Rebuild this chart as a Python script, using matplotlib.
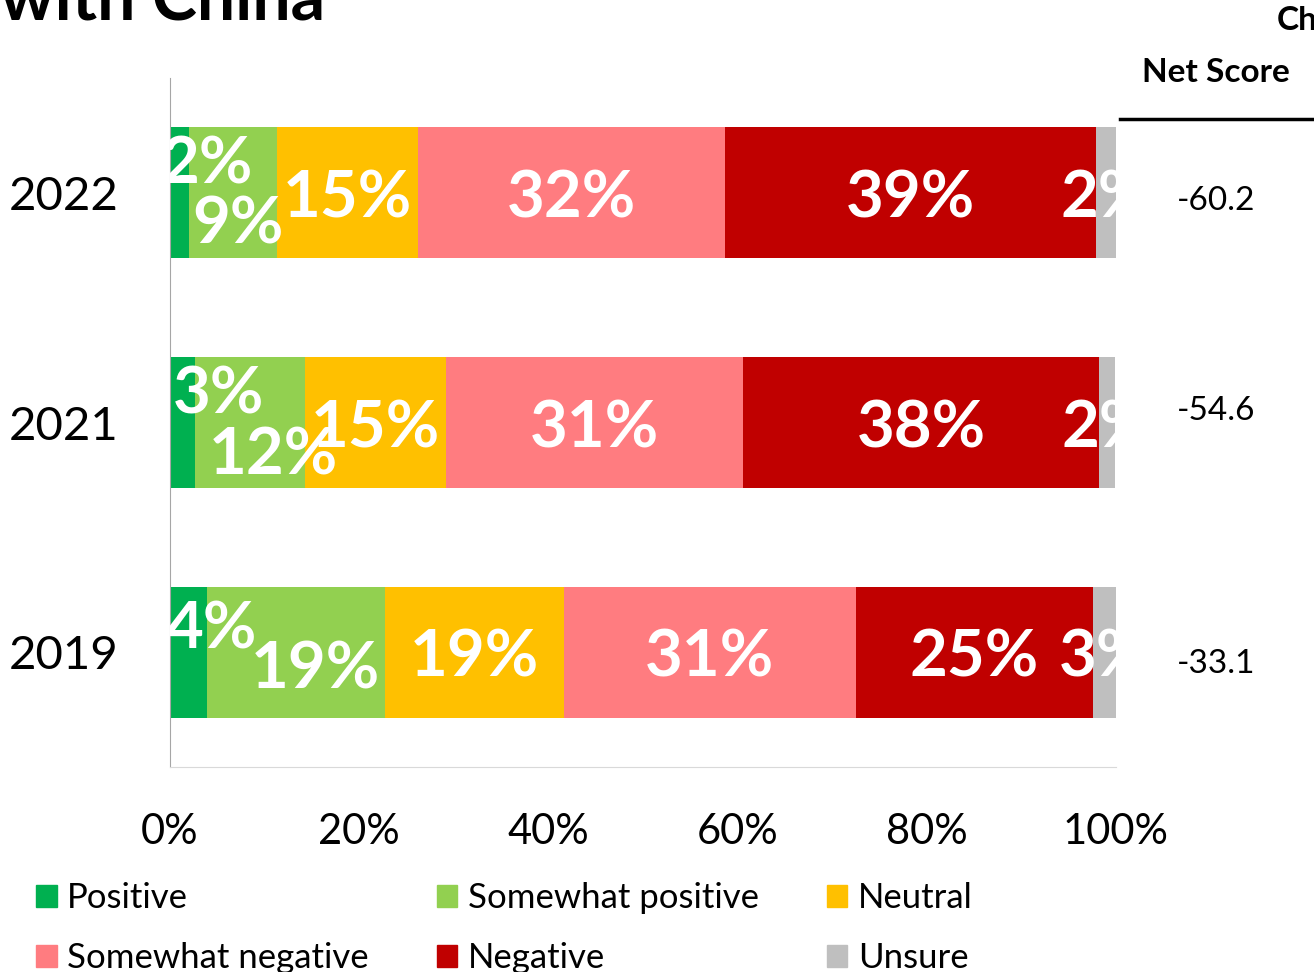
import matplotlib
matplotlib.use('Agg')
import matplotlib.pyplot as plt
from matplotlib.patches import Patch

plt.rcParams['font.family'] = ['Lato', 'DejaVu Sans']

#%% data
years = ['2019', '2021', '2022']
categories = ['Positive', 'Somewhat positive', 'Neutral',
              'Somewhat negative', 'Negative', 'Unsure']
shares = {
    'Positive':          [3.9, 2.6, 2.0],
    'Somewhat positive': [18.8, 11.7, 9.3],
    'Neutral':           [18.9, 14.9, 14.9],
    'Somewhat negative': [30.9, 31.4, 32.5],
    'Negative':          [25.1, 37.6, 39.2],
    'Unsure':            [2.4, 1.7, 2.1],
}
labels = {
    'Positive':          ['4%', '3%', '2%'],
    'Somewhat positive': ['19%', '12%', '9%'],
    'Neutral':           ['19%', '15%', '15%'],
    'Somewhat negative': ['31%', '31%', '32%'],
    'Negative':          ['25%', '38%', '39%'],
    'Unsure':            ['3%', '2%', '2%'],
}
net_scores = ['-33.1', '-54.6', '-60.2']
xticks = [0, 20, 40, 60, 80, 100]
xticklabels = ['0%', '20%', '40%', '60%', '80%', '100%']

#%% styles
colors = ['#00B050', '#92D050', '#FFC000', '#FF7C80', '#C00000', '#BFBFBF']
# label nudges (pixels) for the small segments, per year
nudges = {
    'Positive':          [(23, 22), (36, 28), (28, 28)],
    'Somewhat positive': [(20, -18), (23, -33), (5, -32)],
}

#%% plot
fig = plt.figure(figsize=(13.14, 9.72), dpi=100)
ax = fig.add_axes([170 / 1314, 1 - 767 / 972, 946 / 1314, 689 / 972])

left = [0.0] * len(years)
for cat, col in zip(categories, colors):
    vals = shares[cat]
    ax.barh(years, vals, left=left, color=col, height=0.57)
    for i, v in enumerate(vals):
        dx, dy = nudges.get(cat, [(0, -6)] * 3)[i]
        ax.annotate(labels[cat][i], (left[i] + v / 2, i), xytext=(dx, dy),
                    textcoords='offset pixels', ha='center', va='center',
                    color='white', fontsize=47, fontweight='bold',
                    clip_on=True, annotation_clip=False)
    left = [l + v for l, v in zip(left, vals)]

ax.set_xlim(0, 100)
ax.set_ylim(-0.5, 2.5)
ax.set_xticks(xticks)
ax.set_xticklabels(xticklabels, fontsize=30)
ax.tick_params(axis='x', length=0, pad=33)
ax.tick_params(axis='y', length=0, pad=37, labelsize=34)
for s in ['top', 'right']:
    ax.spines[s].set_visible(False)
ax.spines['left'].set_color('#A6A6A6')
ax.spines['bottom'].set_color('#D9D9D9')

# net score column
fig.text(1216 / 1314, 1 - 72 / 972, 'Net Score', ha='center', va='center',
         fontsize=24, fontweight='bold')
fig.add_artist(plt.Line2D([1120 / 1314, 1313 / 1314], [1 - 119 / 972] * 2,
                          color='black', lw=2.5))
for s, ypx in zip(net_scores, [664, 411, 201]):
    fig.text(1216 / 1314, 1 - ypx / 972, s, ha='center', va='center', fontsize=24)
fig.text(1277 / 1314, 1 - 20 / 972, 'Ch', ha='left', va='center',
         fontsize=24, fontweight='bold')

# title (cropped)
fig.text(0, 1 - 20 / 972, 'with China', ha='left', va='baseline',
         fontsize=49, fontweight='bold')

# legend, row-wise order
handles = [Patch(color=c, label=l) for c, l in zip(colors, categories)]
order = [0, 3, 1, 4, 2, 5]
fig.legend([handles[k] for k in order], [categories[k] for k in order],
           ncol=3, loc='upper left', bbox_to_anchor=(36 / 1314, 1 - 882 / 972),
           frameon=False, fontsize=25, handlelength=0.6, handleheight=0.6,
           handletextpad=0.3, columnspacing=1.95, labelspacing=0.8,
           borderpad=0, borderaxespad=0)

fig.savefig('out.png', dpi=100)
